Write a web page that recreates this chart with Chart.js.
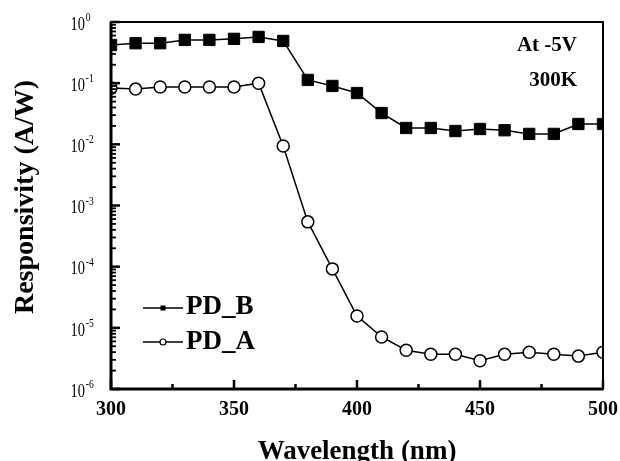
<!DOCTYPE html>
<html>
<head>
<meta charset="utf-8">
<script src="https://cdn.jsdelivr.net/npm/chart.js@4.4.1/dist/chart.umd.min.js"></script>
<style>
  body { margin: 0; background: #fff; }
  canvas { display: block; }
</style>
</head>
<body>
<canvas id="respChart" width="620" height="461"></canvas>
<script>
// Responsivity vs wavelength, both photodiodes at -5V, 300K
const wavelengths = [300, 310, 320, 330, 340, 350, 360, 370, 380, 390, 400,
                     410, 420, 430, 440, 450, 460, 470, 480, 490, 500];
const pdB = [0.42, 0.45, 0.45, 0.51, 0.51, 0.53, 0.57, 0.49, 0.113, 0.09, 0.069,
             0.0325, 0.0185, 0.0185, 0.0165, 0.0178, 0.017, 0.0148, 0.0148, 0.0215, 0.0215];
const pdA = [0.083, 0.08, 0.0865, 0.0865, 0.0865, 0.0865, 0.1, 0.0094, 5.4e-4, 9.2e-5, 1.56e-5,
             7.1e-6, 4.3e-6, 3.7e-6, 3.7e-6, 2.9e-6, 3.7e-6, 4.0e-6, 3.7e-6, 3.45e-6, 4.0e-6];

const xMajor = [300, 350, 400, 450, 500];
const xMinor = [325, 375, 425, 475];
const yExponents = [0, -1, -2, -3, -4, -5, -6];
const notes = ['At -5V', '300K'];
const legendNames = ['PD_B', 'PD_A'];

const SERIF = '"Liberation Serif", "Times New Roman", serif';

const toPoints = vals => wavelengths.map((w, i) => ({ x: w, y: vals[i] }));

// axes, frame, labels and legend are painted by hand on top of the plot
const frameAxes = {
  id: 'frameAxes',
  afterDatasetsDraw(chart) {
    const { ctx, chartArea: a, scales: { x, y } } = chart;
    ctx.save();
    ctx.strokeStyle = '#000';
    ctx.fillStyle = '#000';

    // box
    ctx.lineWidth = 2;
    ctx.strokeRect(a.left, a.top, a.right - a.left, a.bottom - a.top);
    ctx.lineWidth = 3;
    ctx.beginPath();
    ctx.moveTo(a.left, a.top);
    ctx.lineTo(a.left, a.bottom);
    ctx.lineTo(a.right, a.bottom);
    ctx.stroke();

    // y ticks (inward) + minor 2..9 per decade
    yExponents.forEach(e => {
      const py = y.getPixelForValue(Math.pow(10, e));
      ctx.lineWidth = 2.5;
      ctx.beginPath();
      ctx.moveTo(a.left, py);
      ctx.lineTo(a.left + 9, py);
      ctx.stroke();
      if (e < 0) {
        ctx.lineWidth = 1.8;
        for (let m = 2; m <= 9; m++) {
          const pm = y.getPixelForValue(m * Math.pow(10, e));
          ctx.beginPath();
          ctx.moveTo(a.left, pm);
          ctx.lineTo(a.left + 5, pm);
          ctx.stroke();
        }
      }

      // 10^e label, slightly condensed
      ctx.save();
      ctx.translate(85, py + 3);
      ctx.scale(0.8, 1);
      ctx.font = '18px ' + SERIF;
      ctx.textAlign = 'right';
      ctx.textBaseline = 'middle';
      ctx.fillText('10', 0, 0);
      ctx.font = '12px ' + SERIF;
      ctx.textAlign = 'left';
      ctx.fillText(e === 0 ? '0' : '-' + Math.abs(e), 1, -7);
      ctx.restore();
    });

    // x ticks (inward)
    ctx.lineWidth = 2.5;
    xMajor.forEach(v => {
      const px = x.getPixelForValue(v);
      ctx.beginPath();
      ctx.moveTo(px, a.bottom);
      ctx.lineTo(px, a.bottom - 9);
      ctx.stroke();
    });
    xMinor.forEach(v => {
      const px = x.getPixelForValue(v);
      ctx.beginPath();
      ctx.moveTo(px, a.bottom);
      ctx.lineTo(px, a.bottom - 5);
      ctx.stroke();
    });

    ctx.font = 'bold 20px ' + SERIF;
    ctx.textAlign = 'center';
    ctx.textBaseline = 'alphabetic';
    xMajor.forEach(v => ctx.fillText(String(v), x.getPixelForValue(v), 415));

    // axis titles
    ctx.font = 'bold 27px ' + SERIF;
    ctx.fillText('Wavelength (nm)', (a.left + a.right) / 2, 459);
    ctx.save();
    ctx.translate(33, 197);
    ctx.rotate(-Math.PI / 2);
    ctx.font = 'bold 28px ' + SERIF;
    ctx.fillText('Responsivity (A/W)', 0, 0);
    ctx.restore();

    // notes, top right
    ctx.font = 'bold 21px ' + SERIF;
    ctx.textAlign = 'right';
    ctx.fillText(notes[0], 577, 51);
    ctx.fillText(notes[1], 577, 86);

    // legend
    const rows = [{ ly: 308, ty: 314 }, { ly: 342, ty: 349 }];
    rows.forEach((r, i) => {
      ctx.lineWidth = 1.5;
      ctx.beginPath();
      ctx.moveTo(143, r.ly);
      ctx.lineTo(183, r.ly);
      ctx.stroke();
      if (i === 0) {
        ctx.fillRect(160.5, r.ly - 2.5, 5, 5);
      } else {
        ctx.beginPath();
        ctx.arc(163, r.ly, 3, 0, Math.PI * 2);
        ctx.fillStyle = '#fff';
        ctx.fill();
        ctx.lineWidth = 1.2;
        ctx.stroke();
        ctx.fillStyle = '#000';
      }
      ctx.font = 'bold 27px ' + SERIF;
      ctx.textAlign = 'left';
      ctx.fillText(legendNames[i], 186, r.ty);
    });

    ctx.restore();
  }
};

new Chart(document.getElementById('respChart'), {
  type: 'line',
  data: {
    datasets: [
      {
        label: legendNames[0],
        data: toPoints(pdB),
        borderColor: '#000',
        borderWidth: 1.5,
        pointStyle: 'rect',
        pointRadius: 8,
        pointBackgroundColor: '#000',
        pointBorderColor: '#000',
        pointBorderWidth: 1,
        tension: 0,
        clip: 0
      },
      {
        label: legendNames[1],
        data: toPoints(pdA),
        borderColor: '#000',
        borderWidth: 1.5,
        pointStyle: 'circle',
        pointRadius: 6,
        pointBackgroundColor: '#fff',
        pointBorderColor: '#000',
        pointBorderWidth: 1.5,
        tension: 0,
        clip: 0
      }
    ]
  },
  options: {
    responsive: false,
    animation: false,
    devicePixelRatio: 1,
    layout: { padding: { left: 111, top: 22, right: 17, bottom: 72 } },
    scales: {
      x: { type: 'linear', min: 300, max: 500, display: false },
      y: { type: 'logarithmic', min: 1e-6, max: 1, display: false }
    },
    plugins: {
      legend: { display: false },
      tooltip: { enabled: false }
    }
  },
  plugins: [frameAxes]
});
</script>
</body>
</html>
